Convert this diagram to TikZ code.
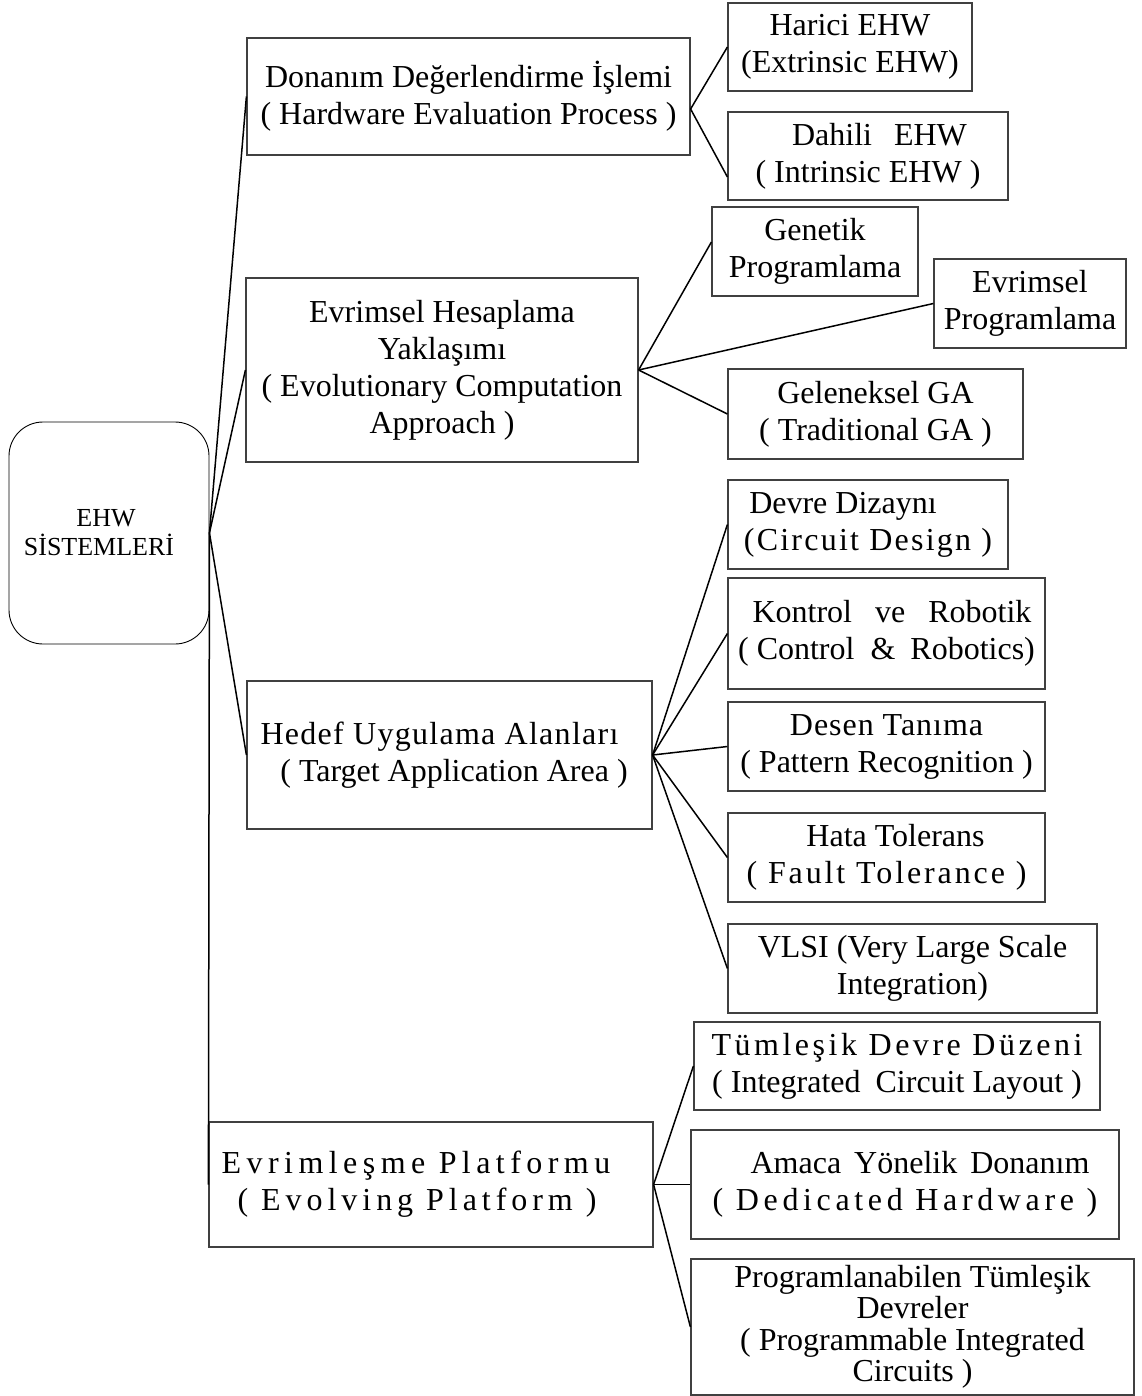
\documentclass[tikz,border=0pt]{standalone}
\usepackage{fontspec}
\setmainfont{Liberation Serif}
% tracked (letter-spaced) text: \trk{percent of font size}{text}
\newcommand{\trk}[2]{{\addfontfeature{LetterSpace=#1}#2}}

\begin{document}
\begin{tikzpicture}[x=1pt,y=-1pt,
  box/.style={draw=black!75, line width=1.2pt, rectangle, inner sep=0pt,
    align=center, font=\fontsize{32}{37}\selectfont},
  rootbox/.style={draw=black, line width=0.9pt, rectangle, rounded corners=34pt,
    inner sep=0pt, align=center, font=\fontsize{26}{29}\selectfont},
  conn/.style={draw=black, line width=1.5pt}]
\fill[white] (0,0) rectangle (1141,1396);
\useasboundingbox (0,0) rectangle (1141,1396);

% root
\node[rootbox, minimum width=200pt, minimum height=222pt] (root) at (109,533)
  {EHW\hspace*{6pt}\\SİSTEMLERİ\hspace*{20pt}};

% first level
\node[box, minimum width=443pt, minimum height=117pt] (donanim) at (468.5,96.5)
  {Donanım Değerlendirme İşlemi\\( Hardware Evaluation Process )};
\node[box, minimum width=392pt, minimum height=184pt] (evrimsel) at (442,370)
  {Evrimsel Hesaplama\\Yaklaşımı\hspace*{26pt}\\( Evolutionary Computation\\Approach )};
\node[box, minimum width=405pt, minimum height=148pt] (hedef) at (449.5,755)
  {\trk{4}{Hedef Uygulama Alanları}\hspace*{20pt}\\\hspace*{9pt}( Target Application Area )};
\node[box, minimum width=444pt, minimum height=125pt] (platform) at (431,1184.5)
  {\trk{17}{Evrimleşme Platformu}\hspace*{30pt}\\\trk{15.5}{( Evolving Platform )}\hspace*{28pt}};

% hardware evaluation
\node[box, minimum width=244pt, minimum height=88pt] (harici) at (850,47)
  {Harici EHW\\(Extrinsic EHW)};
\node[box, minimum width=280pt, minimum height=88pt] (dahili) at (868,156)
  {\hspace*{23pt}Dahili\hspace{22pt}EHW\\( Intrinsic EHW )};

% evolutionary computation
\node[box, minimum width=206pt, minimum height=89pt] (genetik) at (815,251.5)
  {Genetik\\Programlama};
\node[box, minimum width=192pt, minimum height=89pt] (evprog) at (1030,303.5)
  {Evrimsel\\Programlama};
\node[box, minimum width=295pt, minimum height=90pt] (geleneksel) at (875.5,414)
  {Geleneksel GA\\( Traditional GA )};

% application areas
\node[box, minimum width=280pt, minimum height=89pt] (devre) at (868,524.5)
  {Devre Dizaynı\hspace*{50pt}\\\trk{7}{(Circuit Design )}};
\node[box, minimum width=317pt, minimum height=111pt] (kontrol) at (886.5,633.5)
  {\hspace*{11pt}Kontrol\hspace{23pt}ve\hspace{23pt}Robotik\\( Control\hspace{16pt}\&\hspace{15pt}Robotics)};
\node[box, minimum width=317pt, minimum height=89pt] (desen) at (886.5,746.5)
  {\trk{3}{Desen Tanıma}\\( Pattern Recognition )};
\node[box, minimum width=317pt, minimum height=89pt] (hata) at (886.5,857.5)
  {\hspace*{18pt}Hata Tolerans\\\trk{9}{( Fault Tolerance )}};
\node[box, minimum width=369pt, minimum height=89pt] (vlsi) at (912.5,968.5)
  {VLSI (Very Large Scale\\Integration)};

% evolving platform
\node[box, minimum width=406pt, minimum height=88pt] (tumlesik) at (897,1066)
  {\trk{11}{Tümleşik Devre Düzeni}\\( Integrated\hspace{15pt}Circuit Layout )};
\node[box, minimum width=428pt, minimum height=109pt] (amaca) at (905,1184.5)
  {\hspace*{30pt}Amaca\hspace{13pt}Yönelik\hspace{13pt}Donanım\\\trk{14.5}{( Dedicated Hardware )}};
\node[box, minimum width=443pt, minimum height=136pt, font=\fontsize{32}{31.5}\selectfont] (programlanabilen) at (912.5,1327)
  {Programlanabilen Tümleşik\\Devreler\\( Programmable Integrated\hspace*{75pt}\\Circuits )};

% branch points that sit off the box centres
\coordinate (dfan) at ([yshift=-12.5pt]donanim.east);
\coordinate (dahiliin) at ([yshift=-21pt]dahili.west);
\coordinate (genetikin) at ([yshift=9.5pt]genetik.west);

% connectors
\draw[conn] (root.east) -- (donanim.west);
\draw[conn] (root.east) -- (evrimsel.west);
\draw[conn] (root.east) -- (hedef.west);
\draw[conn] (root.east) -- (platform.west);

\draw[conn] (dfan) -- (harici.west);
\draw[conn] (dfan) -- (dahiliin);

\draw[conn] (evrimsel.east) -- (genetikin);
\draw[conn] (evrimsel.east) -- (evprog.west);
\draw[conn] (evrimsel.east) -- (geleneksel.west);

\draw[conn] (hedef.east) -- (devre.west);
\draw[conn] (hedef.east) -- (kontrol.west);
\draw[conn] (hedef.east) -- (desen.west);
\draw[conn] (hedef.east) -- (hata.west);
\draw[conn] (hedef.east) -- (vlsi.west);

\draw[conn] (platform.east) -- (tumlesik.west);
\draw[conn] (platform.east) -- (amaca.west);
\draw[conn] (platform.east) -- (programlanabilen.west);
\end{tikzpicture}
\end{document}
